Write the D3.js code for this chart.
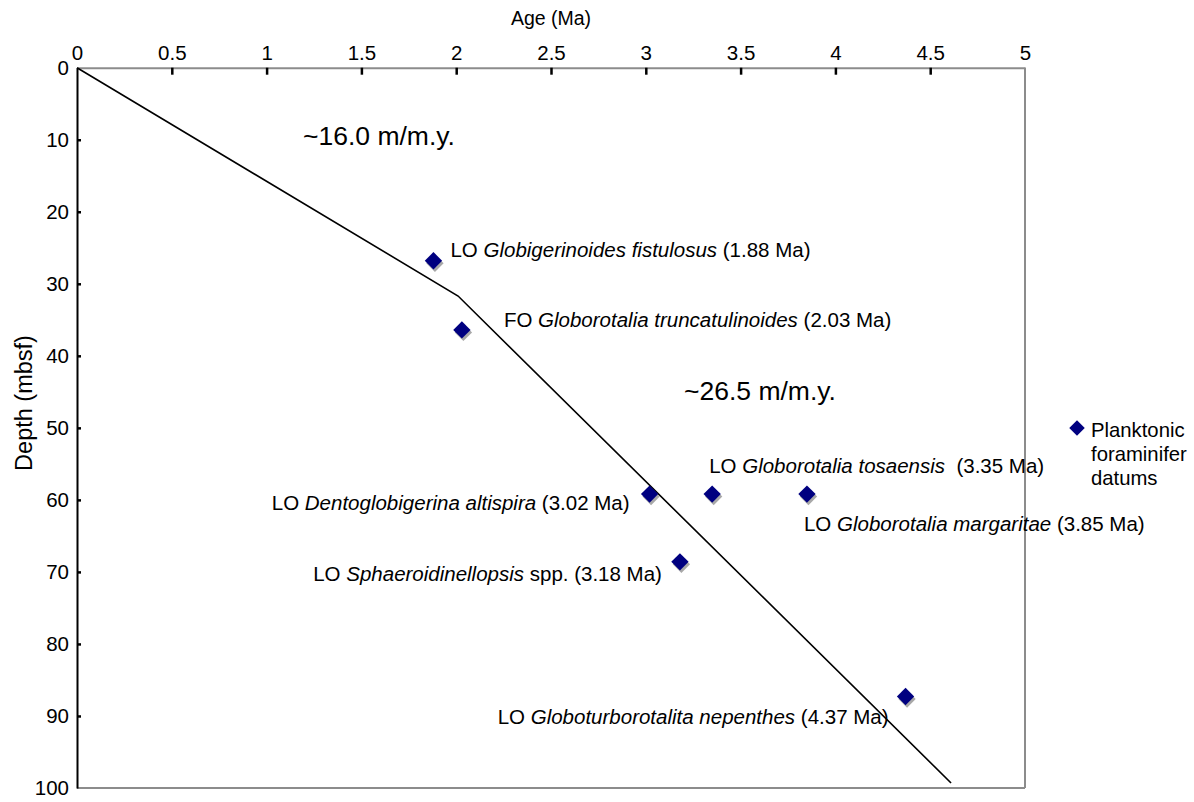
<!DOCTYPE html>
<html>
<head>
<meta charset="utf-8">
<script src="https://cdn.jsdelivr.net/npm/d3@7"></script>
<style>
  html, body { margin: 0; padding: 0; background: #fff; }
  svg { display: block; font-family: "Liberation Sans", Arial, Helvetica, sans-serif; }
</style>
</head>
<body>
<svg id="chart" width="1194" height="802"></svg>
<script>
// ---- Data ----
const xTicks = [0, 0.5, 1, 1.5, 2, 2.5, 3, 3.5, 4, 4.5, 5];
const yTicks = [0, 10, 20, 30, 40, 50, 60, 70, 80, 90, 100];

// Age-depth model line
const lineAge   = [0, 2.01, 4.61];
const lineDepth = [0, 31.7, 99.3];

// Planktonic foraminifer datums
const datumAge   = [1.88, 2.03, 3.02, 3.35, 3.85, 3.18, 4.37];
const datumDepth = [26.8, 36.4, 59.2, 59.2, 59.2, 68.6, 87.3];
const datumPrefix  = ["LO ", "FO ", "LO ", "LO ", "LO ", "LO ", "LO "];
const datumTaxon   = ["Globigerinoides fistulosus", "Globorotalia truncatulinoides", "Dentoglobigerina altispira",
                      "Globorotalia tosaensis", "Globorotalia margaritae", "Sphaeroidinellopsis", "Globoturborotalita nepenthes"];
const datumSuffix  = [" (1.88 Ma)", " (2.03 Ma)", " (3.02 Ma)", "  (3.35 Ma)", " (3.85 Ma)", " spp. (3.18 Ma)", " (4.37 Ma)"];

const rateLabels = ["~16.0 m/m.y.", "~26.5 m/m.y."];
const legendLines = ["Planktonic", "foraminifer", "datums"];

// ---- Layout (pixel offsets, not data) ----
const labelLayout = [
  {dx: 17, dy: -4, anchor: "start"},
  {dx: 42, dy: -3, anchor: "start"},
  {dx: -20, dy: 16, anchor: "end"},
  {dx: -3, dy: -21, anchor: "start"},
  {dx: -3, dy: 37, anchor: "start"},
  {dx: -18, dy: 19, anchor: "end"},
  {dx: -17, dy: 27, anchor: "end"}
];
const ratePos = [{x: 303, y: 145}, {x: 684, y: 400}];

const svg = d3.select("#chart");
const x = d3.scaleLinear().domain([0, 5]).range([77, 1025]);
const y = d3.scaleLinear().domain([0, 100]).range([67.7, 788]);

// Frame: right & bottom gray
svg.append("line").attr("x1", x(5)).attr("x2", x(5)).attr("y1", y(0)).attr("y2", y(100))
  .attr("stroke", "#8c8c8c").attr("stroke-width", 2);
svg.append("line").attr("x1", x(0)).attr("x2", x(5)).attr("y1", y(100)).attr("y2", y(100))
  .attr("stroke", "#8c8c8c").attr("stroke-width", 2);

// Top axis
const xAxis = d3.axisTop(x).tickValues(xTicks).tickSize(0).tickPadding(8).tickFormat(d3.format("~g"));
const gx = svg.append("g").attr("transform", `translate(0,${y(0)})`).call(xAxis)
  .attr("font-size", 20.5).attr("font-family", "Liberation Sans, Arial, sans-serif");
gx.select(".domain").attr("stroke", "#8c8c8c").attr("stroke-width", 2);
gx.selectAll(".tick text").attr("fill", "#000");
gx.selectAll(".tick").filter(d => d > 0 && d < 5).append("line")
  .attr("y1", 0).attr("y2", 7).attr("stroke", "#000").attr("stroke-width", 2.5);

// Left axis
const yAxis = d3.axisLeft(y).tickValues(yTicks).tickSize(0).tickPadding(8);
const gy = svg.append("g").attr("transform", `translate(${x(0)},0)`).call(yAxis)
  .attr("font-size", 20.5).attr("font-family", "Liberation Sans, Arial, sans-serif");
gy.select(".domain").attr("stroke", "#000").attr("stroke-width", 2);
gy.selectAll(".tick text").attr("fill", "#000");
gy.selectAll(".tick").filter(d => d > 0 && d < 100).append("line")
  .attr("x1", 0).attr("x2", 4).attr("stroke", "#000").attr("stroke-width", 2.5);

// Axis titles
svg.append("text").attr("x", (x(0) + x(5)) / 2).attr("y", 25).attr("text-anchor", "middle")
  .attr("font-size", 19.5).text("Age (Ma)");
svg.append("text").attr("transform", `translate(32,403) rotate(-90)`).attr("text-anchor", "middle")
  .attr("font-size", 23.5).text("Depth (mbsf)");

// Age-depth line
const lineData = lineAge.map((a, i) => [a, lineDepth[i]]);
svg.append("path").datum(lineData)
  .attr("d", d3.line().x(d => x(d[0])).y(d => y(d[1])))
  .attr("fill", "none").attr("stroke", "#000").attr("stroke-width", 1.6);

// Diamond markers
const diamond = d3.symbol().type(d3.symbolSquare).size(150);
const datums = datumAge.map((a, i) => ({age: a, depth: datumDepth[i], i}));
const mk = svg.append("g");
mk.selectAll("path.shadow").data(datums).join("path").attr("class", "shadow")
  .attr("d", diamond).attr("fill", "#a8a8a8")
  .attr("transform", d => `translate(${x(d.age) + 1.5},${y(d.depth) + 2.5}) rotate(45)`);
mk.selectAll("path.mark").data(datums).join("path").attr("class", "mark")
  .attr("d", diamond).attr("fill", "#000080")
  .attr("transform", d => `translate(${x(d.age)},${y(d.depth)}) rotate(45)`);

// Datum labels
const lg = svg.append("g").attr("font-size", 20.5);
datums.forEach(d => {
  const L = labelLayout[d.i];
  const t = lg.append("text").attr("x", x(d.age) + L.dx).attr("y", y(d.depth) + L.dy)
    .attr("text-anchor", L.anchor).attr("xml:space", "preserve").style("white-space", "pre");
  t.append("tspan").text(datumPrefix[d.i]);
  t.append("tspan").attr("font-style", "italic").text(datumTaxon[d.i]);
  t.append("tspan").text(datumSuffix[d.i]);
});

// Rate labels
rateLabels.forEach((r, i) => {
  svg.append("text").attr("x", ratePos[i].x).attr("y", ratePos[i].y).attr("font-size", 26.5).text(r);
});

// Legend
svg.append("path").attr("d", d3.symbol().type(d3.symbolSquare).size(120))
  .attr("fill", "#000080").attr("transform", "translate(1077,428) rotate(45)");
legendLines.forEach((l, i) => {
  svg.append("text").attr("x", 1091).attr("y", 437 + i * 24).attr("font-size", 20.3).text(l);
});
</script>
</body>
</html>
